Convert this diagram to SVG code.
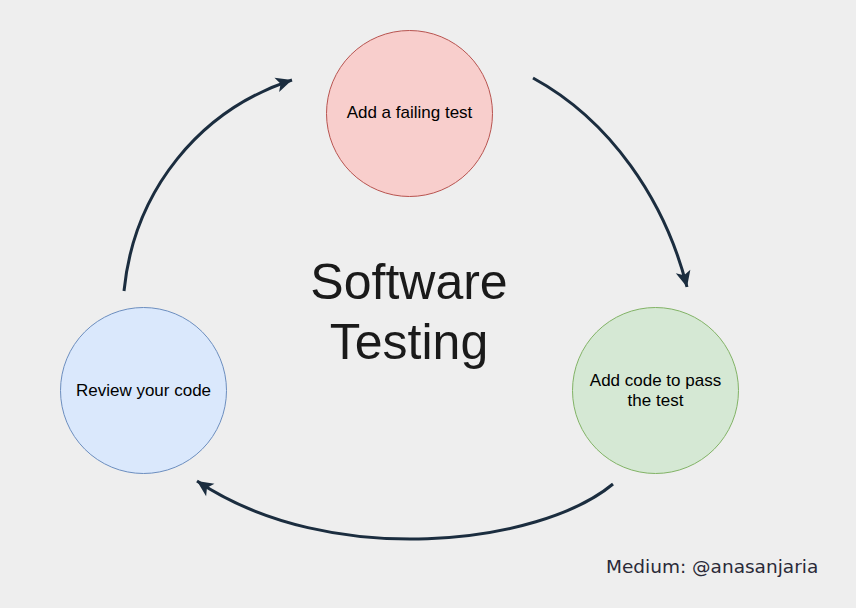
<svg xmlns="http://www.w3.org/2000/svg" width="856" height="608" viewBox="0 0 856 608">
<style>
.lbl{font-family:"Liberation Sans",Arial,sans-serif;font-size:17px;fill:#000;text-anchor:middle}
.arr{fill:none;stroke:#1b2d3f;stroke-width:3}
.title{font-family:"Liberation Sans",Arial,sans-serif;font-size:50px;fill:#1a1a1a;text-anchor:middle}
</style>
<defs>
<marker id="ah" markerUnits="userSpaceOnUse" markerWidth="20" markerHeight="20" refX="17" refY="8" orient="auto" viewBox="0 0 20 16">
<path d="M17,8 L1,0.5 L5,8 L1,15.5 Z" fill="#1b2d3f"/>
</marker>
</defs>
<rect width="856" height="608" fill="#eeeeee"/>
<g id="connectors">
<path class="arr" d="M124,291 C134,190 200,110 292,80" marker-end="url(#ah)"/>
<path class="arr" d="M533,78 C610,120 665,200 687,287" marker-end="url(#ah)"/>
<path class="arr" d="M613,484 C540,545 330,570 197,481" marker-end="url(#ah)"/>
</g>
<g id="node-failing">
<circle cx="409.5" cy="113.5" r="83" fill="#f8cecc" stroke="#b85450"/>
<text class="lbl" x="409.5" y="118">Add a failing test</text>
</g>
<g id="node-pass">
<circle cx="655.5" cy="390.5" r="83" fill="#d5e8d4" stroke="#82b366"/>
<text class="lbl" x="655.5" y="385.5">Add code to pass</text>
<text class="lbl" x="655.5" y="406">the test</text>
</g>
<g id="node-review">
<circle cx="143.5" cy="390.5" r="83" fill="#dae8fc" stroke="#6c8ebf"/>
<text class="lbl" x="143.5" y="395.5">Review your code</text>
</g>
<g id="title">
<text class="title" x="409" y="299">Software</text>
<text class="title" x="409" y="359">Testing</text>
</g>
<text x="606" y="573" font-family="DejaVu Sans, sans-serif" font-size="18.5" fill="#2a2a38">Medium: @anasanjaria</text>
</svg>
